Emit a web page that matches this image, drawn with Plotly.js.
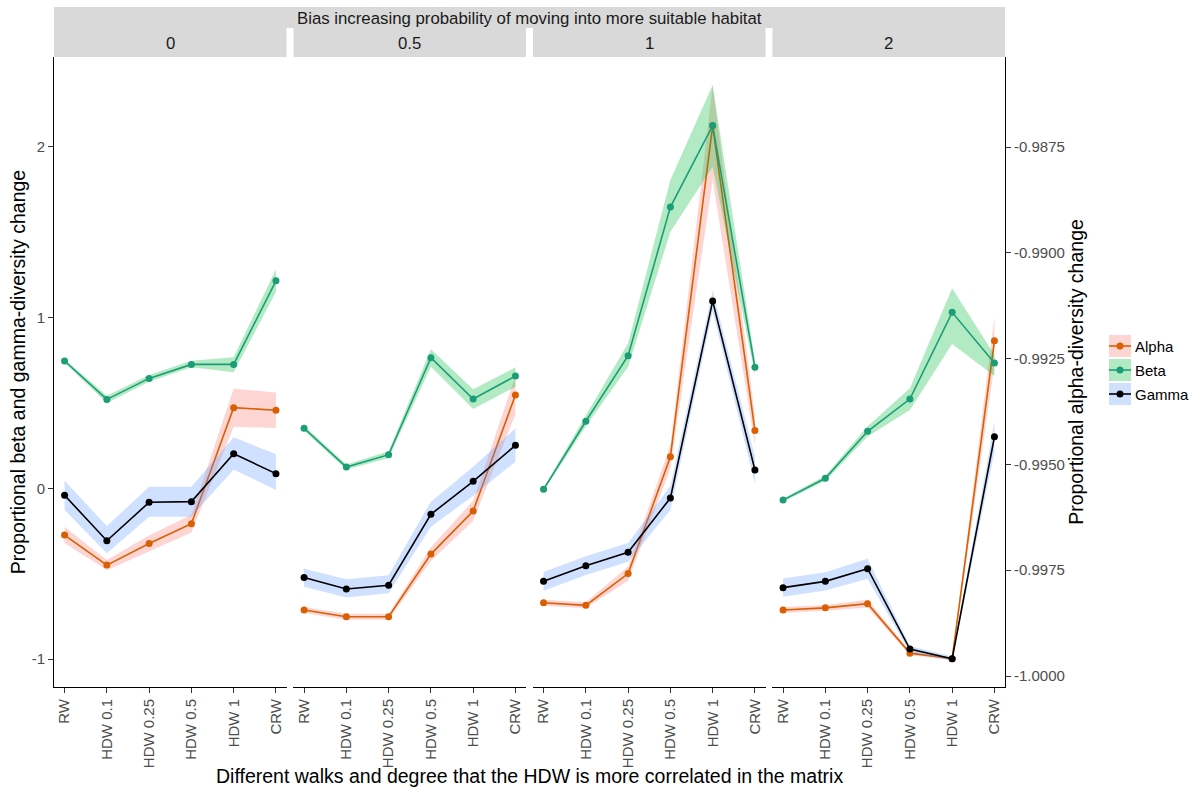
<!DOCTYPE html>
<html>
<head>
<meta charset="utf-8">
<script src="https://cdn.plot.ly/plotly-3.0.1.min.js"></script>
<style>
  html, body { margin: 0; padding: 0; background: #ffffff; }
  #chart { width: 1198px; height: 789px; }
</style>
</head>
<body>
<div id="chart"></div>
<script>
// Walk types on each facet's x axis
const walks = ["RW", "HDW 0.1", "HDW 0.25", "HDW 0.5", "HDW 1", "CRW"];
// Facet levels: bias increasing probability of moving into more suitable habitat
const biasLevels = ["0", "0.5", "1", "2"];
const seriesNames = ["Alpha", "Beta", "Gamma"];

// Alpha diversity change (right axis), one row per bias level
const alphaMean = [
  [-0.99667, -0.99738, -0.99687, -0.99640, -0.99366, -0.99372],
  [-0.99844, -0.99860, -0.99860, -0.99712, -0.99610, -0.99336],
  [-0.99827, -0.99833, -0.99758, -0.99482, -0.98700, -0.99420],
  [-0.99844, -0.99839, -0.99829, -0.99946, -0.99959, -0.99208]
];
const alphaLow = [
  [-0.99686, -0.99750, -0.99706, -0.99661, -0.99411, -0.99414],
  [-0.99851, -0.99867, -0.99867, -0.99728, -0.99634, -0.99381],
  [-0.99834, -0.99840, -0.99775, -0.99510, -0.98828, -0.99455],
  [-0.99851, -0.99846, -0.99838, -0.99951, -0.99962, -0.99265]
];
const alphaHigh = [
  [-0.99648, -0.99726, -0.99668, -0.99619, -0.99321, -0.99330],
  [-0.99837, -0.99853, -0.99853, -0.99696, -0.99586, -0.99291],
  [-0.99820, -0.99826, -0.99741, -0.99454, -0.98605, -0.99385],
  [-0.99837, -0.99832, -0.99820, -0.99941, -0.99956, -0.99151]
];

// Beta diversity change (left axis)
const betaMean = [
  [0.746, 0.521, 0.644, 0.726, 0.726, 1.216],
  [0.352, 0.125, 0.197, 0.765, 0.523, 0.658],
  [-0.006, 0.393, 0.777, 1.648, 2.125, 0.709],
  [-0.069, 0.059, 0.334, 0.523, 1.031, 0.734]
];
const betaLow = [
  [0.736, 0.500, 0.624, 0.709, 0.680, 1.152],
  [0.337, 0.110, 0.177, 0.712, 0.465, 0.595],
  [-0.016, 0.363, 0.712, 1.503, 1.884, 0.669],
  [-0.079, 0.044, 0.304, 0.459, 0.846, 0.658]
];
const betaHigh = [
  [0.756, 0.542, 0.664, 0.748, 0.768, 1.283],
  [0.367, 0.140, 0.217, 0.815, 0.580, 0.709],
  [0.004, 0.423, 0.850, 1.806, 2.363, 0.749],
  [-0.059, 0.074, 0.364, 0.586, 1.172, 0.781]
];

// Gamma diversity change (left axis)
const gammaMean = [
  [-0.041, -0.307, -0.082, -0.078, 0.203, 0.086],
  [-0.522, -0.590, -0.568, -0.152, 0.041, 0.252],
  [-0.545, -0.453, -0.375, -0.057, 1.097, 0.107],
  [-0.582, -0.545, -0.471, -0.942, -0.998, 0.302]
];
const gammaLow = [
  [-0.127, -0.381, -0.166, -0.166, 0.111, -0.010],
  [-0.576, -0.639, -0.615, -0.225, -0.043, 0.156],
  [-0.600, -0.508, -0.430, -0.127, 1.037, 0.027],
  [-0.635, -0.598, -0.530, -0.960, -1.010, 0.214]
];
const gammaHigh = [
  [0.045, -0.221, 0.009, 0.009, 0.299, 0.199],
  [-0.471, -0.533, -0.510, -0.078, 0.127, 0.352],
  [-0.490, -0.398, -0.320, 0.013, 1.157, 0.187],
  [-0.529, -0.492, -0.412, -0.924, -0.986, 0.390]
];

// Axis ticks
const leftTickVals = [-1, 0, 1, 2];
const leftTickText = ["-1", "0", "1", "2"];
const rightTickVals = [-1.0, -0.9975, -0.995, -0.9925, -0.99, -0.9875];
const rightTickText = ["-1.0000", "-0.9975", "-0.9950", "-0.9925", "-0.9900", "-0.9875"];

const FONT = "Liberation Sans, Arial, Helvetica, sans-serif";
const TICK_GREY = "#4d4d4d";

const seriesData = {
  Alpha: { mean: alphaMean, low: alphaLow, high: alphaHigh, line: "#D95F02", band: "rgba(248,118,109,0.3)", yaxis: "y" },
  Beta:  { mean: betaMean,  low: betaLow,  high: betaHigh,  line: "#1B9E77", band: "rgba(0,186,56,0.3)",   yaxis: "y2" },
  Gamma: { mean: gammaMean, low: gammaLow, high: gammaHigh, line: "#000000", band: "rgba(97,156,255,0.3)", yaxis: "y2" }
};

const xIds = ["x", "x2", "x3", "x4"];
const panelW = 0.2445;
const panelGap = (1 - 4 * panelW) / 3;
const domains = biasLevels.map((_, i) => [i * (panelW + panelGap), i * (panelW + panelGap) + panelW]);

const traces = [];
// ribbons first, then lines with points
biasLevels.forEach((lvl, p) => {
  seriesNames.forEach(name => {
    const s = seriesData[name];
    traces.push({
      type: "scatter", mode: "lines",
      x: walks.concat(walks.slice().reverse()),
      y: s.high[p].concat(s.low[p].slice().reverse()),
      xaxis: xIds[p], yaxis: s.yaxis,
      fill: "toself", fillcolor: s.band,
      line: { width: 0, color: s.band },
      hoverinfo: "skip", showlegend: false
    });
  });
});
biasLevels.forEach((lvl, p) => {
  seriesNames.forEach(name => {
    const s = seriesData[name];
    traces.push({
      type: "scatter", mode: "lines+markers",
      name: name,
      x: walks, y: s.mean[p],
      xaxis: xIds[p], yaxis: s.yaxis,
      line: { color: s.line, width: 1.6 },
      marker: { color: s.line, size: 7 },
      showlegend: false
    });
  });
});

function xAxis(i) {
  return {
    domain: domains[i], anchor: "y",
    type: "category", categoryorder: "array", categoryarray: walks,
    range: [-0.25, 5.25],
    showline: true, linecolor: "#000000", linewidth: 1,
    ticks: "outside", ticklen: 5, tickwidth: 1, tickcolor: "#333333",
    tickangle: -90, tickfont: { family: FONT, size: 15, color: TICK_GREY },
    showgrid: false, zeroline: false, fixedrange: true
  };
}

// Margins and paper/pixel helpers for the strips and the key
const M = { l: 54, r: 193, t: 57, b: 102 };
const W = 1198, H = 789;
const plotW = W - M.l - M.r, plotH = H - M.t - M.b;
const px = X => (X - M.l) / plotW;
const py = Y => (H - M.b - Y) / plotH;

const shapes = [];
const annotations = [];

// facet strips
shapes.push({ type: "rect", xref: "paper", yref: "paper", x0: 0, x1: 1, y0: py(28), y1: py(7),
  fillcolor: "#d9d9d9", line: { width: 0 } });
domains.forEach(d => {
  shapes.push({ type: "rect", xref: "paper", yref: "paper", x0: d[0], x1: d[1], y0: py(57), y1: py(28),
    fillcolor: "#d9d9d9", line: { width: 0 } });
});
annotations.push({ xref: "paper", yref: "paper", x: 0.5, y: py(18), xanchor: "center", yanchor: "middle",
  text: "Bias increasing probability of moving into more suitable habitat", showarrow: false,
  font: { family: FONT, size: 16.8, color: "#1a1a1a" } });
biasLevels.forEach((lvl, i) => {
  annotations.push({ xref: "paper", yref: "paper", x: (domains[i][0] + domains[i][1]) / 2, y: py(43),
    xanchor: "center", yanchor: "middle", text: lvl, showarrow: false,
    font: { family: FONT, size: 16.8, color: "#1a1a1a" } });
});

// shared x title
annotations.push({ xref: "paper", yref: "paper", x: 0.5, y: py(776), xanchor: "center", yanchor: "middle",
  text: "Different walks and degree that the HDW is more correlated in the matrix", showarrow: false,
  font: { family: FONT, size: 19.5, color: "#000000" } });

// key
const keyRows = [346, 370, 394];
seriesNames.forEach((name, i) => {
  const s = seriesData[name];
  const cy = keyRows[i];
  shapes.push({ type: "rect", xref: "paper", yref: "paper", x0: px(1109), x1: px(1131), y0: py(cy + 11), y1: py(cy - 11),
    fillcolor: s.band, line: { width: 0 } });
  shapes.push({ type: "line", xref: "paper", yref: "paper", x0: px(1109), x1: px(1131), y0: py(cy), y1: py(cy),
    line: { color: s.line, width: 1.6 } });
  shapes.push({ type: "circle", xref: "paper", yref: "paper", x0: px(1116.5), x1: px(1123.5), y0: py(cy + 3.5), y1: py(cy - 3.5),
    fillcolor: s.line, line: { width: 0 } });
  annotations.push({ xref: "paper", yref: "paper", x: px(1133), y: py(cy), xanchor: "left", yanchor: "middle",
    text: name, showarrow: false, font: { family: FONT, size: 15, color: "#000000" } });
});

const layout = {
  width: W, height: H,
  margin: { l: M.l, r: M.r, t: M.t, b: M.b, pad: 0 },
  paper_bgcolor: "#ffffff", plot_bgcolor: "#ffffff",
  font: { family: FONT, color: "#000000" },
  showlegend: false,
  xaxis: xAxis(0), xaxis2: xAxis(1), xaxis3: xAxis(2), xaxis4: xAxis(3),
  // alpha scale on the right
  yaxis: {
    domain: [0, 1], anchor: "x4", side: "right",
    range: [-1.00026, -0.985373],
    tickvals: rightTickVals, ticktext: rightTickText,
    showline: true, linecolor: "#000000", linewidth: 1,
    ticks: "outside", ticklen: 5, tickwidth: 1, tickcolor: "#333333",
    tickfont: { family: FONT, size: 15, color: TICK_GREY },
    showgrid: false, zeroline: false, fixedrange: true,
    title: { text: "Proportional alpha-diversity change", font: { family: FONT, size: 19.5, color: "#000000" }, standoff: 5 }
  },
  // beta and gamma scale on the left
  yaxis2: {
    overlaying: "y", anchor: "x", side: "left",
    range: [-1.164, 2.527],
    tickvals: leftTickVals, ticktext: leftTickText,
    showline: true, linecolor: "#000000", linewidth: 1,
    ticks: "outside", ticklen: 5, tickwidth: 1, tickcolor: "#333333",
    tickfont: { family: FONT, size: 15, color: TICK_GREY },
    showgrid: false, zeroline: false, fixedrange: true,
    title: { text: "Proportional beta and gamma-diversity change", font: { family: FONT, size: 19.5, color: "#000000" }, standoff: 0 }
  },
  shapes: shapes,
  annotations: annotations
};

Plotly.newPlot("chart", traces, layout, { displayModeBar: false, staticPlot: true });
</script>
</body>
</html>
